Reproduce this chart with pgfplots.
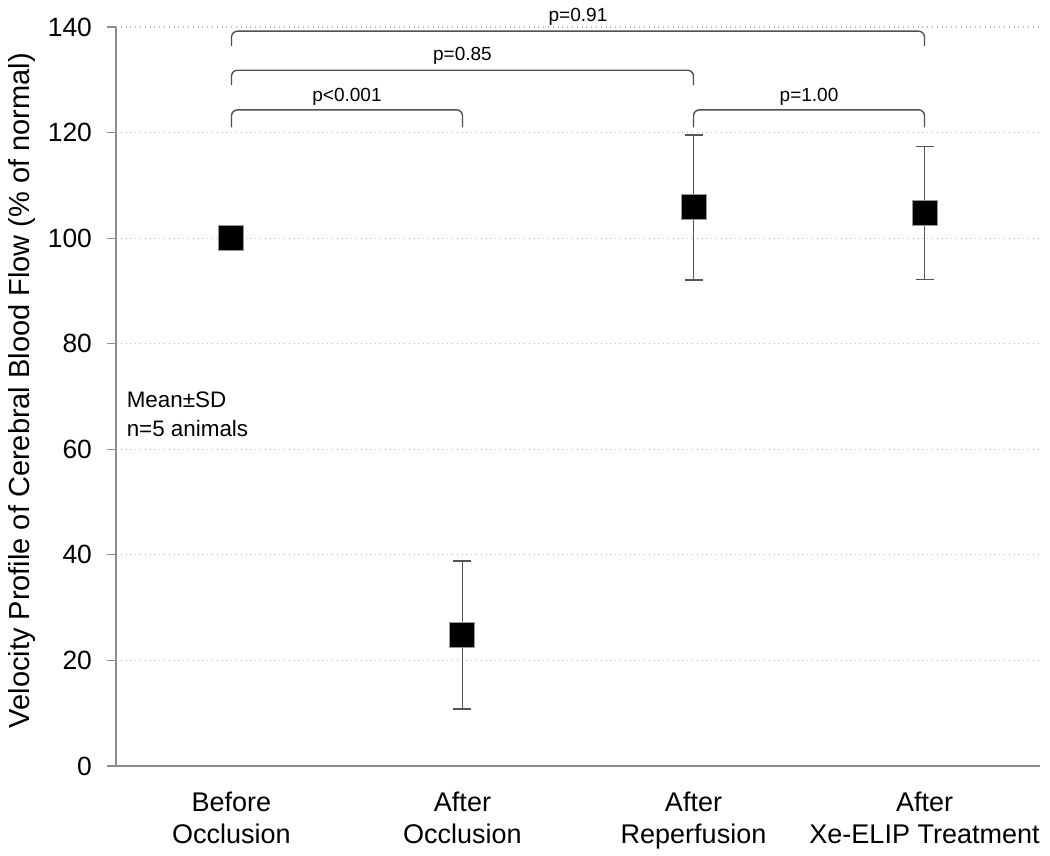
\documentclass[border=0pt]{standalone}
\usepackage{pgfplots}
\pgfplotsset{compat=1.18}
\usepackage{fontspec}
\setmainfont{Liberation Sans}
\definecolor{axgray}{HTML}{8C8C8C}
\definecolor{gridgray}{HTML}{B4B4B4}
\definecolor{brk}{HTML}{505050}
\definecolor{errc}{HTML}{555555}
\begin{document}
\begin{tikzpicture}
\begin{axis}[
  scale only axis,
  width=462pt, height=369.5pt,
  xmin=-0.5, xmax=3.5,
  ymin=0, ymax=140,
  clip=false,
  axis x line=bottom, axis y line=left,
  axis line style={-, draw=axgray, line width=0.6pt},
  xtick={0,1,2,3},
  xticklabels={{Before\\Occlusion},{After\\Occlusion},{After\\Reperfusion},{After\\Xe-ELIP Treatment}},
  xticklabel style={align=center, font=\fontsize{13.5}{16}\selectfont, yshift=-5pt},
  x tick style={draw=none},
  major x tick style={draw=none},
  ytick={0,20,40,60,80,100,120,140},
  y tick style={draw=axgray, line width=0.6pt},
  tick align=outside,
  major tick length=4.5pt,
  yticklabel style={font=\fontsize{13.2}{15}\selectfont, xshift=-4pt},
  /pgf/number format/assume math mode=true,
  ymajorgrids=true,
  grid style={draw=gridgray, dotted, line width=0.6pt},
  ylabel={Velocity Profile of Cerebral Blood Flow (\% of normal)},
  ylabel style={font=\fontsize{14.5}{16}\selectfont, at={(axis description cs:-0.102,0.508)}, anchor=center},
]
\path (axis description cs:-0.1255,-0.1204) rectangle (axis description cs:1.0108,1.0365);

\addplot[
  only marks,
  mark=square*,
  mark size=6.25pt,
  mark options={fill=black, draw=gray!80, line width=0.5pt},
  error bars/.cd,
    y dir=both, y explicit,
    error mark options={rotate=90, mark size=4.5pt, draw=errc, line width=0.7pt},
    error bar style={draw=errc, line width=0.7pt},
] coordinates {
  (0,100.0) +- (0,0)
  (1,24.8) +- (0,14.0)
  (2,105.8) +- (0,13.7)
  (3,104.8) +- (0,12.6)
};

% brackets
\draw[brk, line width=0.7pt, rounded corners=3pt] (axis cs:0,121.0) -- (axis cs:0,124.3) -- (axis cs:1,124.3) -- (axis cs:1,121.0);
\draw[brk, line width=0.7pt, rounded corners=3pt] (axis cs:2,121.0) -- (axis cs:2,124.3) -- (axis cs:3,124.3) -- (axis cs:3,121.0);
\draw[brk, line width=0.7pt, rounded corners=3pt] (axis cs:0,129.0) -- (axis cs:0,131.8) -- (axis cs:2,131.8) -- (axis cs:2,129.0);
\draw[brk, line width=0.7pt, rounded corners=3pt] (axis cs:0,136.4) -- (axis cs:0,139.2) -- (axis cs:3,139.2) -- (axis cs:3,136.4);

\node[font=\fontsize{9.5}{11}\selectfont] at (axis cs:0.5,126.7) {p<0.001};
\node[font=\fontsize{9.5}{11}\selectfont] at (axis cs:2.5,126.7) {p=1.00};
\node[font=\fontsize{9.5}{11}\selectfont] at (axis cs:1.0,134.5) {p=0.85};
\node[font=\fontsize{9.5}{11}\selectfont] at (axis cs:1.5,142.0) {p=0.91};

\node[anchor=north west, inner sep=0pt, align=left, font=\fontsize{11.2}{14.5}\selectfont] at (axis cs:-0.455,71.0) {Mean±SD\\n=5 animals};
\end{axis}
\end{tikzpicture}
\end{document}
